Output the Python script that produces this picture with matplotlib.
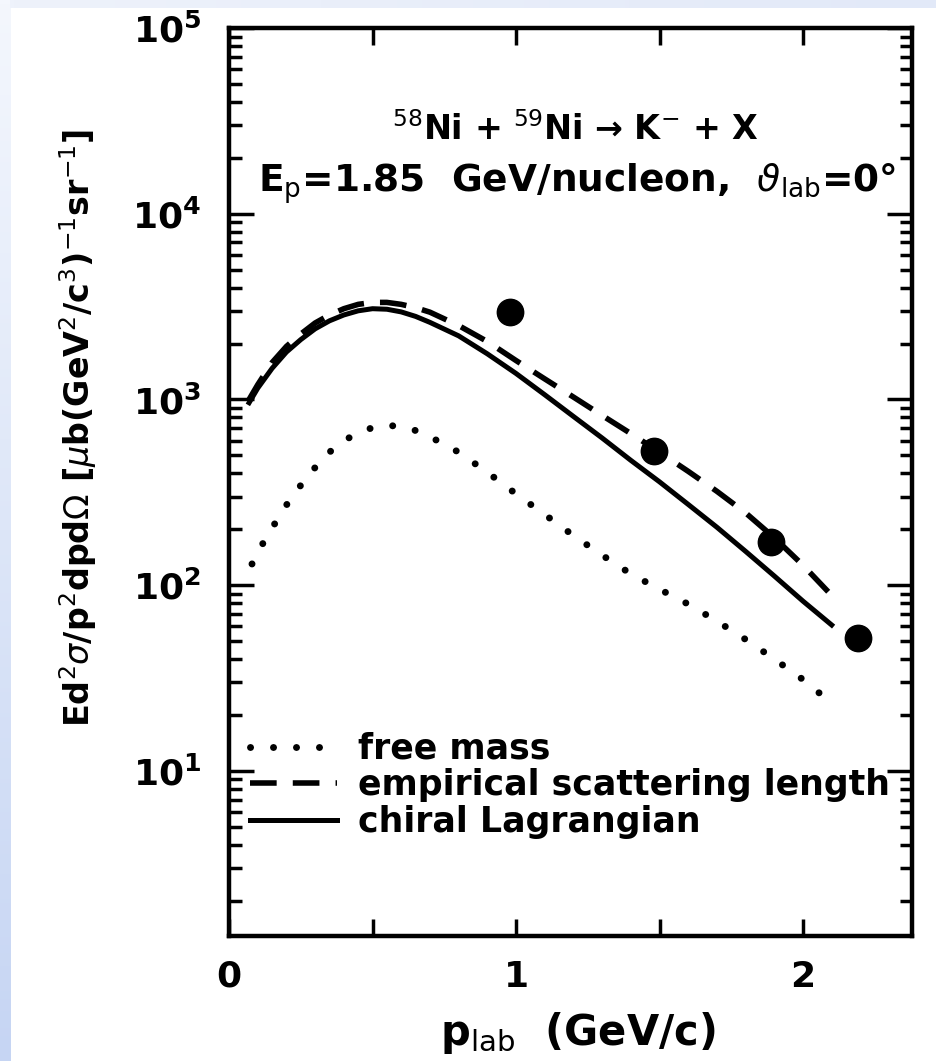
import numpy as np
import matplotlib.pyplot as plt
from matplotlib.colors import LinearSegmentedColormap
from matplotlib.ticker import LogLocator, NullFormatter

# K- invariant cross section, Ni + Ni at 1.85 GeV/nucleon, 0 deg
p_free = [0.08, 0.12, 0.16, 0.20, 0.25, 0.30, 0.35, 0.40, 0.45, 0.50, 0.55, 0.60, 0.65, 0.70,
          0.80, 0.90, 1.00, 1.10, 1.20, 1.30, 1.40, 1.50, 1.60, 1.70, 1.80, 1.90, 2.00, 2.06]
free_mass = [130, 170, 215, 270, 345, 430, 520, 600, 660, 705, 725, 715, 680, 630,
             520, 405, 310, 240, 185, 145, 115, 95, 79, 64, 51, 40, 31, 26]

p_emp = [0.07, 0.10, 0.15, 0.20, 0.25, 0.30, 0.35, 0.40, 0.45, 0.50, 0.55, 0.60, 0.65, 0.70,
         0.80, 0.90, 1.00, 1.10, 1.20, 1.30, 1.40, 1.50, 1.60, 1.70, 1.80, 1.90, 2.00, 2.10]
empirical = [1000, 1200, 1580, 1930, 2250, 2580, 2850, 3080, 3250, 3330, 3330, 3250, 3120, 2950,
             2500, 2050, 1620, 1290, 1030, 820, 655, 520, 410, 320, 245, 180, 128, 88]

p_chiral = [0.07, 0.10, 0.15, 0.20, 0.25, 0.30, 0.35, 0.40, 0.45, 0.50, 0.55, 0.60, 0.65, 0.70,
            0.80, 0.90, 1.00, 1.10, 1.20, 1.30, 1.40, 1.50, 1.60, 1.70, 1.80, 1.90, 2.00, 2.10]
chiral = [960, 1150, 1470, 1800, 2100, 2400, 2650, 2850, 3000, 3080, 3060, 2960, 2800, 2600,
          2200, 1760, 1380, 1060, 810, 620, 470, 360, 272, 205, 152, 112, 82, 61]

# measured points
p_data = [0.98, 1.48, 1.89, 2.19]
sigma_data = [2960, 525, 171, 52]

xtick_pos = [0, 0.5, 1, 1.5, 2]
xtick_lab = ['0', '', '1', '', '2']

fig = plt.figure(figsize=(9.36, 10.61), dpi=100)

# pale blue edge strips around the page
pale = LinearSegmentedColormap.from_list('pale', ['#f4f7fd', '#c6d5f3'])
grad = np.linspace(0, 1, 256).reshape(-1, 1)
edge = fig.add_axes([0, 0, 0.011, 1])
edge.imshow(grad, aspect='auto', cmap=pale, origin='upper', extent=[0, 1, 0, 1])
edge.axis('off')
top = fig.add_axes([0.011, 0.992, 0.989, 0.008])
top.imshow(grad.T, aspect='auto', cmap=LinearSegmentedColormap.from_list('t', ['#eef2fb', '#e2e9f8']),
           extent=[0, 1, 0, 1])
top.axis('off')

ax = fig.add_axes([0.2447, 0.1178, 0.7297, 0.8558])
ax.set_yscale('log')

ax.plot(p_free, free_mass, color='black', lw=5.0, linestyle=(0, (0.01, 3.3)),
        dash_capstyle='round', label='free mass')
ax.plot(p_emp, empirical, color='black', lw=4.0, linestyle=(0, (4.8, 2.9)),
        label='empirical scattering length')
ax.plot(p_chiral, chiral, color='black', lw=3.6, label='chiral Lagrangian')
ax.plot(p_data, sigma_data, 'o', color='black', markersize=19)

ax.set_xlim(0, 2.38)
ax.set_ylim(1.29, 1e5)

ax.set_xticks(xtick_pos)
ax.set_xticklabels(xtick_lab)
ax.yaxis.set_minor_locator(LogLocator(base=10, subs=np.arange(2, 10), numticks=20))
ax.yaxis.set_minor_formatter(NullFormatter())
ax.set_yticks([10, 100, 1000, 10000, 100000])
ax.set_yticklabels([r'$\mathbf{10^1}$', r'$\mathbf{10^2}$', r'$\mathbf{10^3}$',
                    r'$\mathbf{10^4}$', r'$\mathbf{10^5}$'])

ax.tick_params(axis='both', which='both', direction='in', top=True, right=True, width=2.5)
ax.tick_params(axis='y', which='major', length=18, pad=20, labelsize=26)
ax.tick_params(axis='y', which='minor', length=9)
ax.tick_params(axis='x', which='major', length=12, pad=17, labelsize=26)
for lab in ax.get_xticklabels():
    lab.set_fontweight('bold')
for sp in ax.spines.values():
    sp.set_linewidth(3.2)

ax.text(0.507, 0.888, r'$^{58}$Ni + $^{59}$Ni → K$^{-}$ + X', transform=ax.transAxes,
        ha='center', va='center', fontsize=24, fontweight='bold')
ax.text(0.51, 0.829, r'E$_\mathrm{p}$=1.85  GeV/nucleon,  $\vartheta_\mathrm{lab}$=0°',
        transform=ax.transAxes, ha='center', va='center', fontsize=27, fontweight='bold')

ax.set_xlabel(r'p$_\mathrm{lab}$  (GeV/c)', fontsize=30, fontweight='bold')
ax.xaxis.set_label_coords(0.51, -0.082)
ax.set_ylabel(r'Ed$^2\sigma$/p$^2$dpd$\Omega$ [$\mu$b(GeV$^2$/c$^3$)$^{-1}$sr$^{-1}$]',
              fontsize=24, fontweight='bold')
ax.yaxis.set_label_coords(-0.19, 0.56)

ax.legend(loc='upper left', bbox_to_anchor=(0.0, 0.248), frameon=False,
          prop={'size': 25, 'weight': 'bold'}, handlelength=2.5, handletextpad=0.62,
          labelspacing=0.08, borderaxespad=0.2)

fig.savefig('out.png', dpi=100)
